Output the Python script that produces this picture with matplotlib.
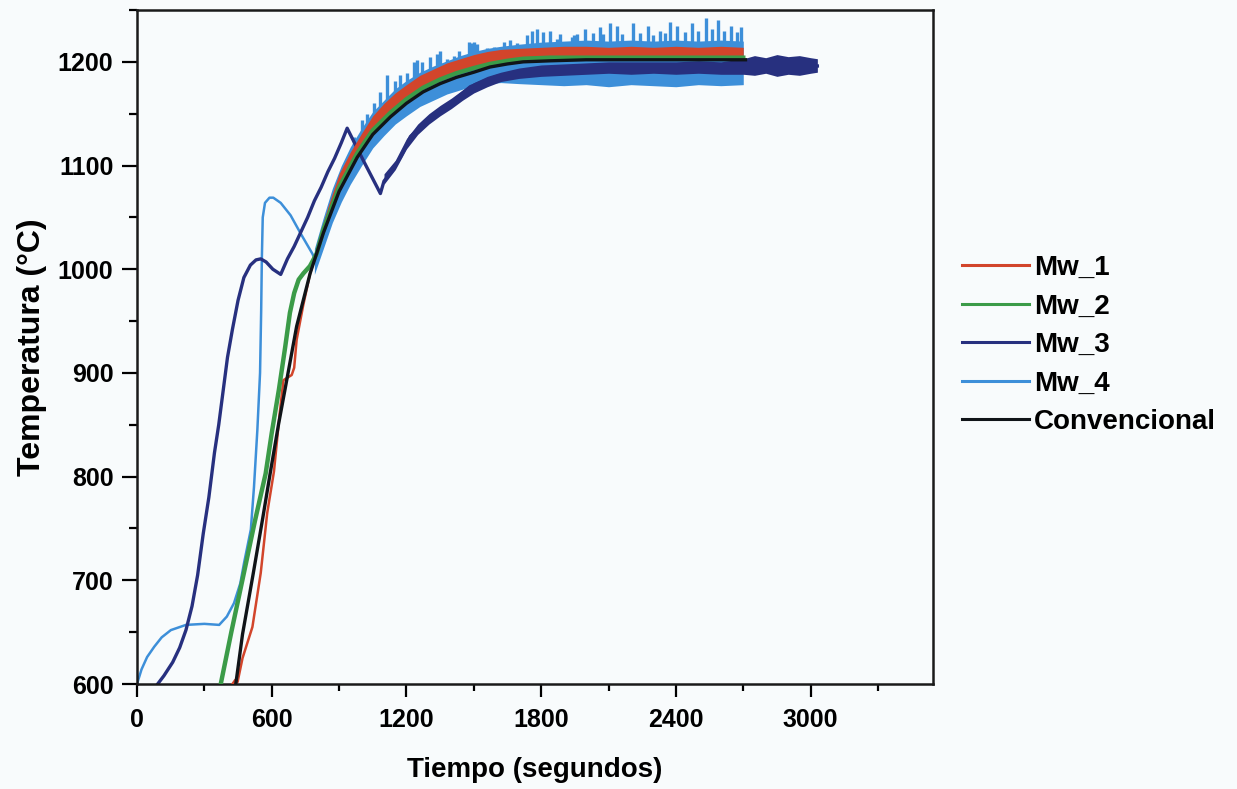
import matplotlib
matplotlib.use("Agg")
import matplotlib.pyplot as plt
from matplotlib.ticker import MultipleLocator
from matplotlib.lines import Line2D

plt.rcParams['font.family'] = ['Liberation Sans', 'DejaVu Sans']
plt.rcParams['font.weight'] = 'bold'

# ---------------- data ----------------
series_names = ["Mw_1", "Mw_2", "Mw_3", "Mw_4", "Convencional"]
colors = {"Mw_1": "#d2452b", "Mw_2": "#3b9b48", "Mw_3": "#27307f",
          "Mw_4": "#3d8fd9", "Convencional": "#101418"}

# Convencional (black)
conv_t = [440, 470, 518, 560, 593, 630, 660, 711, 771, 830, 900, 981, 1050, 1129,
          1200, 1274, 1350, 1422, 1500, 1572, 1650, 1720, 1840, 2000, 2400, 2710]
conv_T = [600, 648, 707, 760, 803, 850, 885, 945, 996, 1035, 1075, 1108, 1130, 1147,
          1160, 1171, 1179, 1185, 1190, 1195, 1198, 1200, 1201, 1202, 1202, 1202]

# Mw_1 (red) rising part
mw1_t = [425, 438, 448, 470, 514, 551, 580, 610, 635, 652, 689, 700, 711, 740, 771, 800]
mw1_T = [600, 604, 602, 625, 655, 707, 765, 805, 860, 893, 898, 905, 932, 965, 996, 1016]
# Mw_1 noisy band
mw1_band_t = [800, 850, 900, 950, 1000, 1050, 1100, 1150, 1200, 1260, 1320, 1380, 1440, 1500,
              1560, 1620, 1700, 1800, 1900, 2000, 2100, 2200, 2300, 2400, 2500, 2600, 2700]
mw1_band_lo = [1014, 1048, 1078, 1099, 1117, 1134, 1145, 1156, 1164, 1173, 1179, 1185, 1190, 1194,
               1198, 1201, 1203, 1205, 1206, 1206, 1206, 1206, 1206, 1206, 1206, 1206, 1206]
mw1_band_hi = [1024, 1060, 1092, 1113, 1131, 1148, 1160, 1170, 1178, 1187, 1193, 1199, 1203, 1207,
               1210, 1212, 1213, 1214, 1215, 1215, 1214, 1215, 1214, 1215, 1214, 1215, 1214]

# Mw_2 (green)
mw2_t = [373, 420, 476, 525, 573, 600, 632, 660, 681, 700, 720, 741, 770, 800, 830, 900,
         981, 1050, 1129, 1200, 1274, 1350, 1422, 1500, 1572, 1650, 1720, 1840, 2000, 2400, 2700]
mw2_T = [600, 650, 707, 757, 803, 842, 884, 925, 958, 977, 990, 996, 1003, 1015, 1038, 1079,
         1112, 1134, 1151, 1164, 1175, 1183, 1189, 1194, 1198, 1201, 1203, 1204, 1204, 1204, 1204]

# Mw_3 (navy)
mw3_t = [92, 120, 159, 190, 218, 245, 270, 295, 320, 345, 364, 385, 403, 425, 450, 476, 505,
         530, 551, 575, 605, 640, 670, 700, 730, 760, 790, 820, 850, 880, 910, 936, 1010, 1084,
         1100, 1129, 1150, 1173, 1195, 1218, 1260, 1307, 1350, 1396, 1440, 1484, 1540, 1603,
         1660, 1720, 1780, 1840, 1900, 2000, 2400, 2700, 3030]
mw3_T = [600, 608, 621, 635, 652, 675, 705, 745, 780, 823, 850, 885, 915, 942, 970, 992, 1004,
         1009, 1010, 1007, 1000, 995, 1010, 1022, 1036, 1050, 1066, 1079, 1094, 1107, 1122, 1136, 1104, 1073,
         1085, 1093, 1100, 1108, 1117, 1128, 1137, 1147, 1154, 1160, 1168, 1176, 1181, 1186,
         1188, 1190, 1192, 1193, 1194, 1195, 1195, 1195, 1196]
mw3_band_t = [1100, 1150, 1200, 1250, 1300, 1350, 1400, 1450, 1500, 1560, 1620, 1700, 1800, 1900,
              2000, 2100, 2200, 2300, 2400, 2500, 2600, 2700, 2750, 2800, 2850, 2900, 2950, 3000, 3030]
mw3_band_lo = [1082, 1096, 1116, 1130, 1140, 1148, 1155, 1163, 1170, 1176, 1181, 1184, 1186, 1187,
               1188, 1189, 1188, 1189, 1188, 1189, 1188, 1188, 1187, 1189, 1186, 1188, 1187, 1189, 1190]
mw3_band_hi = [1092, 1105, 1126, 1140, 1150, 1158, 1165, 1173, 1180, 1186, 1190, 1194, 1197, 1198,
               1199, 1200, 1200, 1200, 1200, 1201, 1200, 1203, 1206, 1204, 1207, 1205, 1206, 1204, 1203]

# Mw_4 (light blue)
mw4_t = [0, 20, 45, 77, 110, 151, 218, 300, 366, 400, 432, 460, 477, 507, 521, 536, 548, 553,
         556, 560, 570, 590, 607, 640, 684, 730, 781, 795]
mw4_T = [600, 614, 626, 636, 645, 652, 657, 658, 657, 665, 678, 697, 717, 749, 790, 845, 900, 960,
         1010, 1050, 1064, 1069, 1069, 1064, 1052, 1034, 1015, 1008]
mw4_band_t = [790, 830, 870, 910, 950, 1000, 1050, 1100, 1150, 1200, 1260, 1320, 1380, 1440, 1500,
              1560, 1620, 1700, 1800, 1900, 2000, 2100, 2200, 2300, 2400, 2500, 2600, 2700]
mw4_band_lo = [995, 1020, 1045, 1065, 1082, 1100, 1117, 1129, 1140, 1148, 1157, 1163, 1169, 1173, 1177,
               1179, 1180, 1179, 1178, 1177, 1178, 1176, 1178, 1177, 1176, 1178, 1177, 1178]
mw4_band_hi = [1020, 1050, 1078, 1100, 1118, 1136, 1152, 1163, 1174, 1182, 1190, 1196, 1201, 1206, 1210,
               1213, 1215, 1217, 1219, 1220, 1221, 1220, 1221, 1220, 1221, 1220, 1221, 1220]
spike_t = [966, 1003, 1025, 1055, 1084, 1114, 1151, 1173, 1203, 1233, 1247, 1270, 1307, 1336, 1351,
           1381, 1410, 1433, 1477, 1490, 1502, 1514, 1559, 1588, 1633, 1662, 1692, 1736, 1758, 1781,
           1810, 1840, 1870, 1884, 1936, 1944, 1959, 1996, 2030, 2062, 2077, 2107, 2136, 2159, 2210,
           2240, 2277, 2300, 2329, 2350, 2373, 2403, 2440, 2470, 2500, 2536, 2560, 2588, 2615, 2647,
           2670, 2692]
spike_top = [1128, 1144, 1150, 1160, 1171, 1187, 1182, 1187, 1189, 1200, 1202, 1200, 1205, 1208, 1210,
             1203, 1206, 1210, 1219, 1218, 1219, 1217, 1213, 1214, 1219, 1221, 1218, 1226, 1230, 1232,
             1229, 1230, 1222, 1227, 1224, 1226, 1227, 1232, 1228, 1234, 1227, 1237, 1235, 1227, 1237,
             1228, 1235, 1226, 1230, 1228, 1238, 1235, 1229, 1237, 1230, 1242, 1232, 1240, 1230, 1235,
             1229, 1234]
spike_base = [1100, 1114, 1120, 1131, 1137, 1144, 1152, 1155, 1160, 1165, 1167, 1170, 1174, 1177, 1178,
              1181, 1183, 1185, 1188, 1189, 1190, 1191, 1194, 1195, 1197, 1198, 1199, 1200, 1200, 1201,
              1201, 1202, 1202, 1202, 1202, 1202, 1202, 1202, 1202, 1202, 1202, 1202, 1202, 1202, 1202,
              1202, 1202, 1202, 1202, 1202, 1202, 1202, 1202, 1202, 1202, 1202, 1202, 1202, 1202, 1202,
              1202, 1202]

x_ticks = [0, 600, 1200, 1800, 2400, 3000]
y_ticks = [600, 700, 800, 900, 1000, 1100, 1200]
x_label = "Tiempo (segundos)"
y_label = "Temperatura (°C)"

# ---------------- figure ----------------
bg = "#f8fbfc"
fig = plt.figure(figsize=(12.37, 7.89), dpi=100, facecolor=bg)
ax = fig.add_axes([137 / 1237, 1 - 684 / 789, (933 - 137) / 1237, (684 - 10) / 789])
ax.set_facecolor(bg)

# Mw_4
c4 = colors["Mw_4"]
ax.fill_between(mw4_band_t, mw4_band_lo, mw4_band_hi, color=c4, lw=0, zorder=1)
ax.vlines(spike_t, spike_base, spike_top, color=c4, lw=2.4, zorder=1)
ax.plot(mw4_t, mw4_T, color=c4, lw=1.8, zorder=1.2)

# Mw_3
c3 = colors["Mw_3"]
ax.fill_between(mw3_band_t, mw3_band_lo, mw3_band_hi, color=c3, lw=0, zorder=2)
ax.plot(mw3_t, mw3_T, color=c3, lw=2.4, zorder=2)

# Mw_1
c1 = colors["Mw_1"]
ax.fill_between(mw1_band_t, mw1_band_lo, mw1_band_hi, color=c1, lw=0, zorder=3)
ax.plot(mw1_t, mw1_T, color=c1, lw=1.8, zorder=3)

# Mw_2
c2 = colors["Mw_2"]
ax.plot(mw2_t, mw2_T, color=c2, lw=3.2, zorder=4)

# Convencional
c0 = colors["Convencional"]
ax.plot(conv_t, conv_T, color=c0, lw=2.4, zorder=5)

ax.set_xlim(0, 3545)
ax.set_ylim(600, 1250)
ax.set_xticks(x_ticks)
ax.set_yticks(y_ticks)
ax.xaxis.set_minor_locator(MultipleLocator(300))
ax.yaxis.set_minor_locator(MultipleLocator(50))
ax.tick_params(axis='x', which='major', length=9, width=1.6, direction='out', pad=8, labelsize=18)
ax.tick_params(axis='x', which='minor', length=5, width=1.6, direction='out')
ax.tick_params(axis='y', which='major', length=11, width=1.6, direction='out', pad=6, labelsize=18)
ax.tick_params(axis='y', which='minor', length=6, width=1.6, direction='out')
for lab in ax.get_xticklabels() + ax.get_yticklabels():
    lab.set_fontweight('bold')
for s in ax.spines.values():
    s.set_linewidth(1.8)
    s.set_color('#1a1a1a')

ax.set_xlabel(x_label, fontsize=20, fontweight='bold', labelpad=18)
ax.set_ylabel(y_label, fontsize=23, fontweight='bold', labelpad=8)

# legend
handles = [Line2D([], [], color=colors[n], lw=2.2) for n in series_names]
leg = fig.legend(handles, series_names, loc='center left',
                 bbox_to_anchor=(962 / 1237, 1 - 345 / 789), frameon=False,
                 fontsize=20, handlelength=2.4, handletextpad=0.2, labelspacing=0.45,
                 borderpad=0, borderaxespad=0)
for t in leg.get_texts():
    t.set_fontweight('bold')

fig.savefig("out.png", dpi=100, facecolor=bg)
